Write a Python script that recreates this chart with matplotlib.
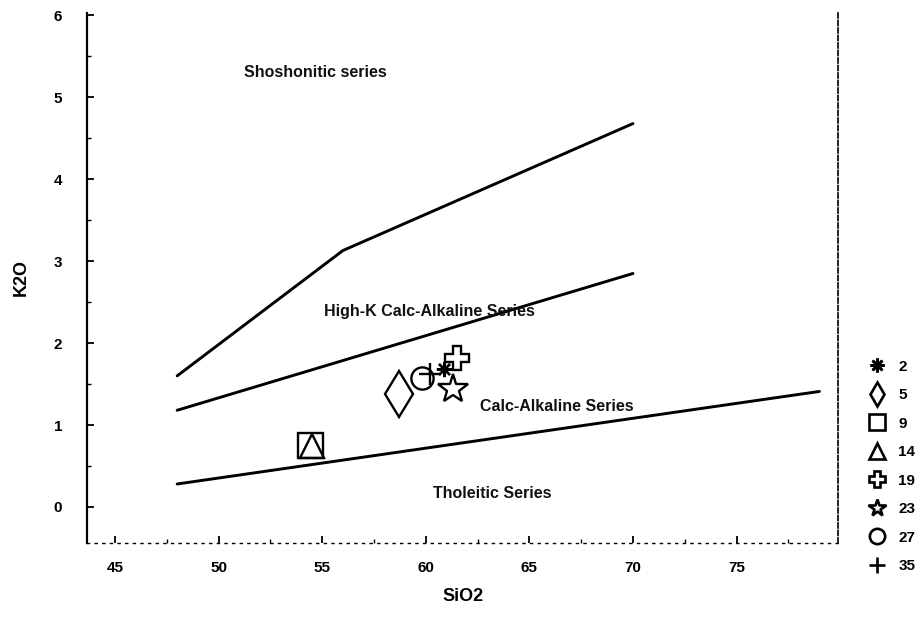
import numpy as np
import matplotlib
matplotlib.use("Agg")
import matplotlib.pyplot as plt
from matplotlib.lines import Line2D
from matplotlib.ticker import MultipleLocator

plt.rcParams['font.family'] = ['Liberation Sans', 'DejaVu Sans']

# boundary lines of the K2O vs SiO2 diagram
shosh_x = [48, 56, 70]
shosh_y = [1.6, 3.13, 4.68]
highk_x = [48, 70]
highk_y = [1.18, 2.85]
calc_x = [48, 79]
calc_y = [0.28, 1.41]

# samples
sample_ids = ['2', '5', '9', '14', '19', '23', '27', '35']
sio2 = [60.9, 58.7, 54.4, 54.5, 61.5, 61.3, 59.8, 60.2]
k2o = [1.68, 1.38, 0.75, 0.74, 1.82, 1.44, 1.57, 1.62]
markers = [(8, 2, 0), 'd', 's', '^', 'P', '*', 'o', '+']
msizes = [11, 23, 18, 17, 17, 22, 16, 16]
legend_sizes = [10, 12, 11, 11, 11, 13, 11, 11]

fig = plt.figure(figsize=(9.23, 6.18), dpi=100)
ax = fig.add_axes([0.0943, 0.1214, 0.8137, 0.8576])

for xs, ys in [(shosh_x, shosh_y), (highk_x, highk_y), (calc_x, calc_y)]:
    ax.plot(xs, ys, color='black', lw=2.1, solid_capstyle='round')

for i in range(len(sample_ids)):
    ax.plot(sio2[i], k2o[i], linestyle='none', marker=markers[i], ms=msizes[i],
            mfc='none', mec='black', mew=1.7)

note = dict(fontsize=11.5, fontweight='bold', ha='center', va='center', color='#111111')
ax.text(54.66, 5.3, 'Shoshonitic series', **note)
ax.text(60.2, 2.39, 'High-K Calc-Alkaline Series', **note)
ax.text(66.3, 1.22, 'Calc-Alkaline Series', **note)
ax.text(63.2, 0.16, 'Tholeitic Series', **note)

ax.set_xlim(43.65, 79.9)
ax.set_ylim(-0.44, 6.03)
ax.set_xticks([45, 50, 55, 60, 65, 70, 75])
ax.set_yticks([0, 1, 2, 3, 4, 5, 6])
ax.xaxis.set_minor_locator(MultipleLocator(2.5))
ax.yaxis.set_minor_locator(MultipleLocator(0.5))
ax.tick_params(which='major', direction='in', length=5, width=1.3, labelsize=11)
ax.tick_params(which='minor', direction='in', length=3, width=1.0)
ax.tick_params(axis='x', pad=13)
ax.tick_params(axis='y', pad=18)
for lab in ax.get_xticklabels() + ax.get_yticklabels():
    lab.set_fontweight('bold')

ax.spines['top'].set_visible(False)
ax.spines['left'].set_linewidth(1.6)
ax.spines['bottom'].set_linestyle((0, (1.5, 4)))
ax.spines['bottom'].set_linewidth(1.0)
ax.spines['right'].set_linestyle((0, (3, 1.5)))
ax.spines['right'].set_linewidth(1.2)

ax.set_xlabel('SiO2', fontsize=13, fontweight='bold', labelpad=9)
ax.set_ylabel('K2O', fontsize=13, fontweight='bold', labelpad=17)

handles = [Line2D([], [], linestyle='none', marker=markers[i], ms=legend_sizes[i],
                  mfc='none', mec='black', mew=1.9) for i in range(len(sample_ids))]
handles[0].set_markerfacecolor('black')
fig.legend(handles, sample_ids, loc='upper left', bbox_to_anchor=(0.942, 0.418),
           frameon=False, borderpad=0, borderaxespad=0, handlelength=1.0,
           handletextpad=0.9, labelspacing=0.95,
           prop={'weight': 'bold', 'size': 11})

fig.savefig('out.png', dpi=100)
